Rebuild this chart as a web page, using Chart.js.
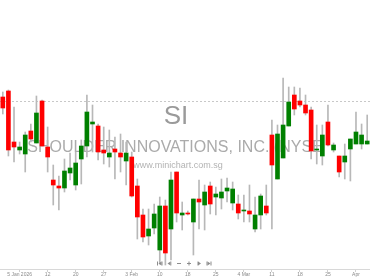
<!DOCTYPE html>
<html>
<head>
<meta charset="utf-8">
<script src="https://cdn.jsdelivr.net/npm/chart.js@4"></script>
<style>
  html, body { margin: 0; padding: 0; background: #fff; }
  canvas { display: block; }
</style>
</head>
<body>
<canvas id="myChart" width="370" height="278"></canvas>
<script>
// trading days shown (one candle each)
const dates = [
  '2025-12-30', '2025-12-31', '2026-01-02', '2026-01-05', '2026-01-06', '2026-01-07', '2026-01-08', '2026-01-09',
  '2026-01-12', '2026-01-13', '2026-01-14', '2026-01-15', '2026-01-16', '2026-01-20', '2026-01-21', '2026-01-22',
  '2026-01-23', '2026-01-26', '2026-01-27', '2026-01-28', '2026-01-29', '2026-01-30', '2026-02-02', '2026-02-03',
  '2026-02-04', '2026-02-05', '2026-02-06', '2026-02-09', '2026-02-10', '2026-02-11', '2026-02-12', '2026-02-13',
  '2026-02-17', '2026-02-18', '2026-02-19', '2026-02-20', '2026-02-23', '2026-02-24', '2026-02-25', '2026-02-26',
  '2026-02-27', '2026-03-02', '2026-03-03', '2026-03-04', '2026-03-05', '2026-03-06', '2026-03-09', '2026-03-10',
  '2026-03-11', '2026-03-12', '2026-03-13', '2026-03-16', '2026-03-17', '2026-03-18', '2026-03-19', '2026-03-20',
  '2026-03-23', '2026-03-24', '2026-03-25', '2026-03-26', '2026-03-27', '2026-03-30', '2026-03-31', '2026-04-01',
  '2026-04-02', '2026-04-06'
];

const open = [
  14.08, 14.20, 13.18, 13.02, 12.94, 13.40, 13.16, 14.00, 13.08, 12.42,
  12.30, 12.26, 12.56, 12.32, 12.84, 13.10, 13.54, 13.50, 13.02, 12.88,
  13.04, 12.96, 12.80, 12.88, 12.30, 11.72, 11.30, 11.46, 11.02, 11.90,
  11.44, 12.58, 11.72, 11.76, 11.58, 12.04, 11.92, 12.30, 12.08, 12.06,
  12.20, 11.96, 11.94, 11.80, 11.80, 11.44, 11.72, 11.90, 13.32, 12.44,
  12.86, 13.50, 14.12, 14.00, 13.92, 13.82, 13.02, 12.90, 13.58, 13.02,
  12.90, 12.78, 13.04, 13.14, 13.14, 13.14
];
const high = [
  14.18, 14.22, 13.88, 13.18, 13.38, 13.54, 14.10, 14.02, 13.48, 12.72,
  12.50, 12.84, 12.96, 12.98, 13.22, 14.12, 13.92, 13.54, 13.48, 13.42,
  13.28, 13.34, 13.18, 12.98, 12.44, 11.84, 11.84, 11.94, 12.08, 12.02,
  12.58, 12.58, 11.98, 11.80, 12.04, 12.42, 12.32, 12.38, 12.28, 12.44,
  12.46, 12.38, 12.12, 12.12, 12.32, 12.08, 12.14, 12.32, 13.62, 13.52,
  14.46, 14.28, 14.28, 14.26, 14.12, 13.88, 13.52, 13.52, 13.92, 13.16,
  12.90, 13.14, 13.24, 13.78, 13.54, 13.72
];
const low = [
  13.74, 12.90, 12.78, 12.94, 12.58, 13.18, 13.16, 13.10, 12.58, 11.92,
  11.82, 12.18, 12.42, 12.22, 12.34, 12.88, 12.98, 12.82, 12.74, 12.68,
  12.44, 12.58, 12.32, 12.08, 11.24, 11.18, 11.12, 11.34, 10.74, 10.72,
  10.82, 11.58, 11.42, 11.72, 10.92, 11.44, 11.42, 11.74, 11.72, 11.84,
  11.98, 11.82, 11.64, 11.58, 11.58, 11.38, 11.44, 11.72, 11.44, 12.44,
  12.86, 13.50, 13.72, 13.88, 13.72, 12.84, 12.74, 12.72, 13.10, 12.98,
  12.48, 12.44, 12.40, 13.14, 13.04, 13.14
];
const close = [
  13.86, 13.02, 13.08, 13.08, 13.32, 13.24, 13.76, 13.10, 12.88, 12.32,
  12.26, 12.60, 12.66, 12.76, 13.10, 13.78, 13.58, 12.98, 12.96, 12.96,
  12.98, 12.88, 12.96, 12.10, 11.68, 11.28, 11.44, 11.74, 11.90, 10.96,
  12.42, 11.76, 11.76, 11.74, 12.04, 11.98, 12.18, 11.94, 12.14, 12.18,
  12.26, 12.24, 11.76, 11.82, 11.74, 11.72, 12.10, 11.76, 12.72, 13.34,
  13.52, 13.98, 13.84, 13.92, 13.76, 13.00, 13.04, 13.32, 13.12, 13.12,
  12.58, 12.90, 13.24, 13.38, 13.32, 13.20
];

// x-axis labels, one per week
const tickDates = ['2026-01-05', '2026-01-12', '2026-01-20', '2026-01-27', '2026-02-03', '2026-02-10', '2026-02-18',
  '2026-02-25', '2026-03-04', '2026-03-11', '2026-03-18', '2026-03-25', '2026-04-01'];
const tickTexts = ['5 Jan 2026', '12', '20', '27', '3 Feb', '10', '18', '25', '4 Mar', '11', '18', '25', 'Apr'];

const refLevel = 14.00;
const symbol = 'SI';
const company = 'SHOULDER INNOVATIONS, INC. (NYSE';
const site = 'www.minichart.com.sg';

const UP = '#008000';
const DOWN = '#ff0000';

const overlay = {
  id: 'overlay',
  beforeDatasetsDraw(chart) {
    const { ctx, chartArea, scales } = chart;
    ctx.save();
    // dotted reference level
    const y = Math.round(scales.y.getPixelForValue(refLevel)) + 0.5;
    ctx.strokeStyle = '#c8c8c8';
    ctx.lineWidth = 1;
    ctx.setLineDash([2, 2]);
    ctx.beginPath();
    ctx.moveTo(chartArea.left, y);
    ctx.lineTo(chartArea.right, y);
    ctx.stroke();
    ctx.setLineDash([]);

    // watermark
    ctx.textAlign = 'center';
    ctx.textBaseline = 'middle';
    ctx.fillStyle = '#9a9a9a';
    ctx.font = '26px "Liberation Sans", Arial, sans-serif';
    ctx.fillText(symbol, 176, 117);
    ctx.fillStyle = '#ababab';
    ctx.font = '16px "Liberation Sans", Arial, sans-serif';
    ctx.fillText(company, 175, 148);
    ctx.fillStyle = '#b3b3b3';
    ctx.font = '9px "Liberation Sans", Arial, sans-serif';
    ctx.fillText(site, 178, 166);
    ctx.restore();
  },
  afterDraw(chart) {
    // little navigation buttons
    const ctx = chart.ctx;
    const yc = 263.5;
    ctx.save();
    ctx.fillStyle = '#8c8c8c';
    ctx.strokeStyle = '#8c8c8c';
    ctx.lineWidth = 1;
    const tri = (x, dir) => {
      ctx.beginPath();
      ctx.moveTo(x + dir * 1.5, yc - 2);
      ctx.lineTo(x - dir * 1.5, yc);
      ctx.lineTo(x + dir * 1.5, yc + 2);
      ctx.closePath();
      ctx.fill();
    };
    // |<
    ctx.fillRect(157, yc - 2, 1, 4); tri(160, 1); ctx.fillRect(161.5, yc - 2, 1, 4);
    // <
    tri(169, 1); ctx.fillRect(170.5, yc - 2, 0.8, 4);
    // -
    ctx.fillRect(177, yc - 0.5, 4, 1);
    // +
    ctx.fillRect(187, yc - 0.5, 4, 1); ctx.fillRect(188.5, yc - 2, 1, 4);
    // >
    ctx.fillRect(197.5, yc - 2, 0.8, 4); tri(199.5, -1);
    // >|
    ctx.fillRect(206.5, yc - 2, 1, 4); tri(209, -1); ctx.fillRect(210.5, yc - 2, 1, 4);
    ctx.restore();
  }
};

const ctx = document.getElementById('myChart');

new Chart(ctx, {
  type: 'bar',
  data: {
    labels: dates,
    datasets: [
      {
        label: 'body',
        data: open.map((o, i) => [o, close[i]]),
        backgroundColor: open.map((o, i) => (close[i] < o ? DOWN : UP)),
        barThickness: 4,
        grouped: false,
        order: 0
      },
      {
        label: 'wick',
        data: low.map((l, i) => [l, high[i]]),
        backgroundColor: '#b8b8b8',
        barThickness: 1,
        grouped: false,
        order: 1
      }
    ]
  },
  options: {
    responsive: false,
    animation: false,
    layout: { padding: 0 },
    plugins: {
      legend: { display: false },
      tooltip: { enabled: false }
    },
    scales: {
      x: {
        offset: true,
        grid: {
          offset: false,
          drawOnChartArea: false,
          drawTicks: true,
          tickLength: 3,
          color: '#d0d0d0'
        },
        border: { display: true, color: '#d8d8d8' },
        ticks: {
          autoSkip: false,
          maxRotation: 0,
          padding: 0,
          color: '#8a8a8a',
          font: { size: 5, family: '"Liberation Sans", Arial, sans-serif' },
          callback: (v, i, ticks) => {
            const k = tickDates.indexOf(dates[ticks[i].value]);
            return k < 0 ? '' : tickTexts[k];
          }
        },
        afterBuildTicks: scale => {
          scale.ticks = scale.ticks.filter(t => tickDates.includes(dates[t.value]));
        },
        afterFit: scale => { scale.height = 9; }
      },
      y: {
        display: false,
        min: 10.64,
        max: 16.02
      }
    }
  },
  plugins: [overlay]
});
</script>
</body>
</html>
